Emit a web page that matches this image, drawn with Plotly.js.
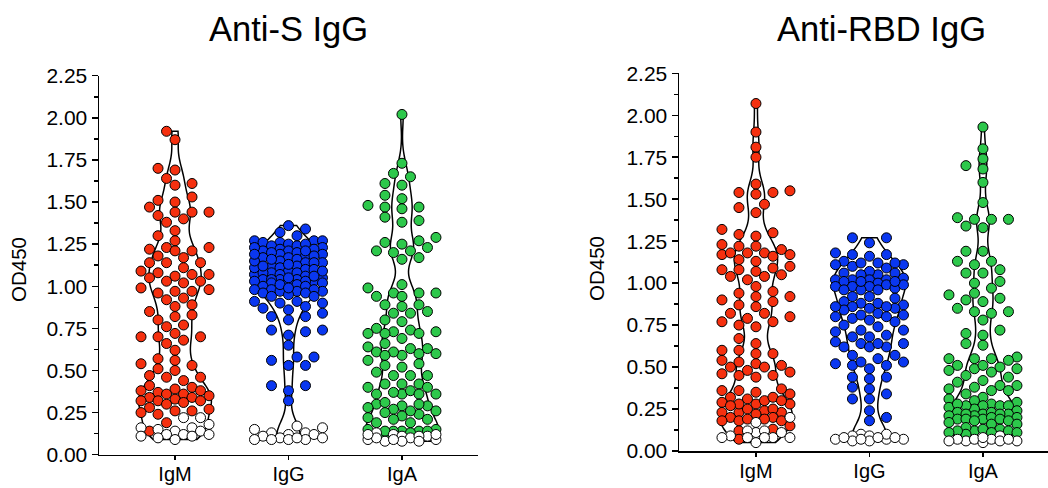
<!DOCTYPE html>
<html>
<head>
<meta charset="utf-8">
<script src="https://cdn.plot.ly/plotly-3.0.1.min.js"></script>
<style>html,body{margin:0;padding:0;background:#fff;}#chart{width:1048px;height:488px;}</style>
</head>
<body>
<div id="chart"></div>
<script>
// ---------- data ----------
const categories = ['IgM', 'IgG', 'IgA'];
const panelTitles = ['Anti-S IgG', 'Anti-RBD IgG'];
const yTitle = 'OD450';

// Anti-S IgG panel
const S_IgM_pos = [1.92,1.87,1.69,1.70,1.64,1.61,1.60,1.53,1.51,1.50,1.47,1.44,1.44,1.44,1.42,1.40,1.38,1.33,1.30,1.27,1.23,1.23,1.22,1.21,1.21,1.18,1.17,1.14,1.14,1.14,1.11,1.09,1.08,1.07,1.07,1.06,1.05,1.03,1.03,1.02,0.99,0.98,0.97,0.97,0.96,0.93,0.92,0.89,0.88,0.85,0.83,0.82,0.80,0.77,0.76,0.72,0.70,0.70,0.70,0.68,0.66,0.62,0.57,0.56,0.54,0.53,0.51,0.50,0.47,0.46,0.46,0.44,0.41,0.40,0.39,0.38,0.38,0.37,0.36,0.36,0.35,0.34,0.34,0.33,0.32,0.32,0.32,0.31,0.30,0.28,0.27,0.26,0.26,0.25,0.24,0.19,0.14];
const S_IgM_neg = [0.22,0.22,0.18,0.16,0.16,0.15,0.14,0.14,0.12,0.12,0.12,0.11,0.11,0.09,0.10];
const S_IgG_pos = [1.36,1.34,1.32,1.30,1.27,1.27,1.27,1.26,1.26,1.25,1.24,1.24,1.23,1.22,1.22,1.21,1.20,1.21,1.19,1.18,1.17,1.19,1.18,1.17,1.16,1.14,1.15,1.14,1.14,1.12,1.12,1.11,1.10,1.10,1.09,1.08,1.08,1.07,1.08,1.07,1.06,1.04,1.04,1.04,1.03,1.04,1.05,1.03,1.02,1.03,1.03,1.02,1.01,1.00,1.00,0.97,0.98,0.98,0.98,0.97,0.97,0.96,0.96,0.95,0.94,0.94,0.90,0.90,0.91,0.91,0.88,0.87,0.86,0.84,0.82,0.82,0.80,0.74,0.73,0.74,0.71,0.65,0.58,0.58,0.53,0.56,0.53,0.41,0.41,0.38,0.32,1.25,1.23,1.20,1.16,1.13,1.11,1.09,1.06,1.05,1.01,0.99,1.12,1.15,1.19,1.21];
const S_IgG_neg = [0.17,0.16,0.15,0.13,0.13,0.12,0.12,0.11,0.10,0.10,0.09,0.09,0.09,0.09,0.10];
const S_IgA_pos = [2.02,1.73,1.65,1.67,1.60,1.61,1.52,1.54,1.48,1.47,1.46,1.47,1.41,1.38,1.39,1.27,1.29,1.25,1.26,1.21,1.21,1.23,1.20,1.16,1.17,1.01,0.96,0.96,0.96,0.99,0.94,0.94,0.89,0.84,0.88,0.89,0.85,0.84,0.80,0.79,0.73,0.73,0.72,0.75,0.74,0.72,0.72,0.69,0.63,0.64,0.66,0.63,0.60,0.59,0.61,0.61,0.60,0.59,0.54,0.52,0.56,0.49,0.53,0.47,0.47,0.42,0.42,0.47,0.42,0.40,0.40,0.36,0.38,0.36,0.37,0.36,0.36,0.30,0.29,0.31,0.30,0.29,0.28,0.24,0.27,0.26,0.26,0.25,0.23,0.21,0.21,0.22,0.19,0.19,0.14,0.14,0.15,0.12,0.14,0.14,0.14,0.15,0.13];
const S_IgA_neg = [0.13,0.11,0.12,0.11,0.09,0.10,0.08,0.09,0.08,0.10,0.12,0.11,0.09,0.08,0.12];

// Anti-RBD IgG panel
const R_IgM_pos = [2.07,1.90,1.81,1.75,1.59,1.53,1.55,1.54,1.54,1.47,1.42,1.45,1.32,1.30,1.28,1.29,1.22,1.20,1.23,1.22,1.18,1.17,1.18,1.17,1.18,1.16,1.14,1.13,1.10,1.07,1.08,1.05,1.09,1.04,1.08,1.04,1.02,0.98,0.94,0.95,0.90,0.92,0.92,0.89,0.86,0.87,0.82,0.82,0.80,0.79,0.77,0.77,0.74,0.75,0.67,0.64,0.58,0.60,0.58,0.60,0.52,0.53,0.54,0.51,0.45,0.50,0.47,0.50,0.45,0.48,0.46,0.44,0.36,0.34,0.36,0.35,0.37,0.28,0.28,0.30,0.32,0.31,0.30,0.32,0.29,0.23,0.24,0.25,0.28,0.27,0.23,0.23,0.25,0.20,0.18,0.20,0.18,0.22,0.19,0.19,0.18,0.12,0.13,0.15,0.07];
const R_IgM_neg = [0.11,0.09,0.08,0.08,0.20,0.11,0.17,0.12,0.08,0.12,0.08,0.05,0.08];
const R_IgG_pos = [1.27,1.27,1.24,1.18,1.17,1.17,1.16,1.11,1.13,1.12,1.10,1.12,1.11,1.09,1.12,1.05,1.07,1.06,1.05,1.02,1.02,1.02,1.02,1.03,1.06,1.00,0.99,0.98,0.98,0.97,0.96,0.99,1.01,1.01,1.01,0.98,0.96,0.96,0.92,0.92,0.91,0.88,0.88,0.89,0.87,0.86,0.84,0.82,0.85,0.85,0.86,0.86,0.78,0.81,0.80,0.77,0.80,0.79,0.81,0.75,0.74,0.72,0.71,0.72,0.68,0.69,0.68,0.64,0.64,0.62,0.62,0.65,0.62,0.64,0.57,0.57,0.55,0.53,0.52,0.51,0.51,0.53,0.49,0.43,0.44,0.44,0.38,0.37,0.34,0.31,0.31,0.24,0.20,0.18];
const R_IgG_neg = [0.07,0.10,0.09,0.09,0.06,0.10,0.08,0.07,0.07,0.06,0.08,0.08,0.07];
const R_IgA_pos = [1.93,1.80,1.74,1.70,1.68,1.60,1.48,1.38,1.38,1.39,1.38,1.33,1.34,1.19,1.19,1.13,1.13,1.11,1.08,1.06,1.06,1.00,1.01,0.94,0.97,0.93,0.89,0.90,0.91,0.82,0.85,0.83,0.83,0.78,0.72,0.70,0.69,0.64,0.63,0.55,0.56,0.55,0.54,0.55,0.51,0.50,0.49,0.48,0.51,0.47,0.49,0.45,0.44,0.41,0.42,0.39,0.39,0.38,0.34,0.37,0.36,0.36,0.32,0.31,0.30,0.28,0.27,0.29,0.26,0.25,0.27,0.27,0.27,0.28,0.24,0.23,0.22,0.22,0.23,0.21,0.22,0.21,0.22,0.19,0.19,0.20,0.19,0.19,0.20,0.18,0.16,0.18,0.16,0.17,0.12,0.13,0.13,0.12,0.14,0.10,0.11,0.12,0.11,0.11];
const R_IgA_neg = [0.06,0.09,0.07,0.05,0.07,0.06,0.07,0.06,0.06,0.07,0.08];

const groupColors = ['#F5300F', '#0A37F0', '#2DC84B'];
const negColor = '#FFFFFF';

const panels = [
  {pos: [S_IgM_pos, S_IgG_pos, S_IgA_pos], neg: [S_IgM_neg, S_IgG_neg, S_IgA_neg]},
  {pos: [R_IgM_pos, R_IgG_pos, R_IgA_pos], neg: [R_IgM_neg, R_IgG_neg, R_IgA_neg]}
];

// ---------- layout geometry ----------
const W = 1048, H = 488;
const xDomains = [[99/W, 478/W], [679/W, 1]];
const xRanges = [[-0.67, 2.67], [-0.678, 2.573]];
const yDomains = [[(H-454.7)/H, (H-75.7)/H], [(H-451)/H, (H-73.3)/H]];
const yMax = 2.25;

// bounded beeswarm: horizontal offsets computed from values (pixel space)
function swarm(vals, pxPerX, pxPerY, diam, colStep, maxK) {
  const order = vals.map((d, i) => i).sort((a, b) => vals[a] - vals[b]);
  const placed = [];
  const xs = new Array(vals.length);
  let flip = 1;
  for (const i of order) {
    const ypx = vals[i] * pxPerY;
    let chosen = null, bestX = 0, bestD = -1;
    for (let s = 0; s <= 2 * maxK; s++) {
      const k = s === 0 ? 0 : (s % 2 ? Math.ceil(s / 2) : -s / 2) * flip;
      const xpx = k * colStep;
      let md = Infinity;
      for (const p of placed) {
        const dx = p.x - xpx, dy = p.y - ypx;
        const d = Math.sqrt(dx * dx + dy * dy);
        if (d < md) md = d;
      }
      if (md >= diam) { chosen = xpx; break; }
      if (md > bestD) { bestD = md; bestX = xpx; }
    }
    if (chosen === null) chosen = bestX;
    flip = -flip;
    placed.push({x: chosen, y: ypx});
    xs[i] = chosen / pxPerX;
  }
  return xs;
}

const traces = [];
const layout = {
  width: W, height: H,
  margin: {l: 0, r: 0, t: 0, b: 0},
  paper_bgcolor: '#fff', plot_bgcolor: 'rgba(0,0,0,0)',
  showlegend: false,
  font: {family: 'Liberation Sans, Arial, Helvetica, sans-serif', color: '#000'},
  annotations: []
};

panels.forEach((pan, p) => {
  const xa = p === 0 ? 'x' : 'x2', ya = p === 0 ? 'y' : 'y2';
  const pxW = (xDomains[p][1] - xDomains[p][0]) * W;
  const pxPerX = pxW / (xRanges[p][1] - xRanges[p][0]);
  const pxPerY = (yDomains[p][1] - yDomains[p][0]) * H / yMax;
  categories.forEach((cat, c) => {
    const all = pan.pos[c].concat(pan.neg[c]);
    traces.push({
      type: 'violin', x0: c, y: all, xaxis: xa, yaxis: ya,
      points: false, fillcolor: '#ffffff', line: {color: '#000', width: 1.5},
      spanmode: 'hard', bandwidth: 0.08, scalemode: 'width', width: 0.64,
      box: {visible: false}, meanline: {visible: false}, hoverinfo: 'skip', name: cat
    });
    const offs = swarm(all, pxPerX, pxPerY, 10, 8.5, 4);
    const nPos = pan.pos[c].length;
    [[pan.pos[c], offs.slice(0, nPos), groupColors[c]], [pan.neg[c], offs.slice(nPos), negColor]].forEach(([vals, o, col]) => {
      traces.push({
        type: 'scatter', mode: 'markers', xaxis: xa, yaxis: ya,
        x: vals.map((v, i) => c + o[i]), y: vals, cliponaxis: false,
        marker: {size: 10, color: col, line: {color: '#000', width: 1}},
        hoverinfo: 'y'
      });
    });
  });
  const xKey = p === 0 ? 'xaxis' : 'xaxis2', yKey = p === 0 ? 'yaxis' : 'yaxis2';
  layout[xKey] = {
    domain: xDomains[p], range: xRanges[p], anchor: ya,
    tickmode: 'array', tickvals: [0, 1, 2], ticktext: categories,
    ticks: 'outside', ticklen: 4, tickwidth: 1.5, tickcolor: '#000',
    ticklabelstandoff: -3,
    showline: true, linewidth: 1.5, linecolor: '#000',
    showgrid: false, zeroline: false, automargin: false,
    tickfont: {size: 20, color: '#000'}
  };
  layout[yKey] = {
    domain: yDomains[p], range: [0, yMax], anchor: xa,
    tickmode: 'linear', tick0: 0, dtick: 0.25, tickformat: '.2f',
    ticks: 'outside', ticklen: 6, tickwidth: 1.5, tickcolor: '#000',
    minor: {ticks: 'outside', dtick: 0.125, ticklen: 4, tickwidth: 1.5, tickcolor: '#000', showgrid: false},
    showline: true, linewidth: 1.5, linecolor: '#000',
    showgrid: false, zeroline: false, automargin: false,
    tickfont: {size: 21, color: '#000'}
  };
  layout.annotations.push({
    text: panelTitles[p], xref: 'paper', yref: 'paper',
    x: p === 0 ? 288 / W : 881 / W, y: (H - 29) / H, xanchor: 'center', yanchor: 'middle',
    showarrow: false, font: {size: 34.5, color: '#000'}
  });
  layout.annotations.push({
    text: yTitle, xref: 'paper', yref: 'paper', textangle: -90,
    x: (p === 0 ? 18 : 596) / W, y: (H - (p === 0 ? 270 : 269)) / H,
    xanchor: 'center', yanchor: 'middle', showarrow: false,
    font: {size: 20.5, color: '#000'}
  });
});

Plotly.newPlot('chart', traces, layout, {staticPlot: true});
</script>
</body>
</html>
